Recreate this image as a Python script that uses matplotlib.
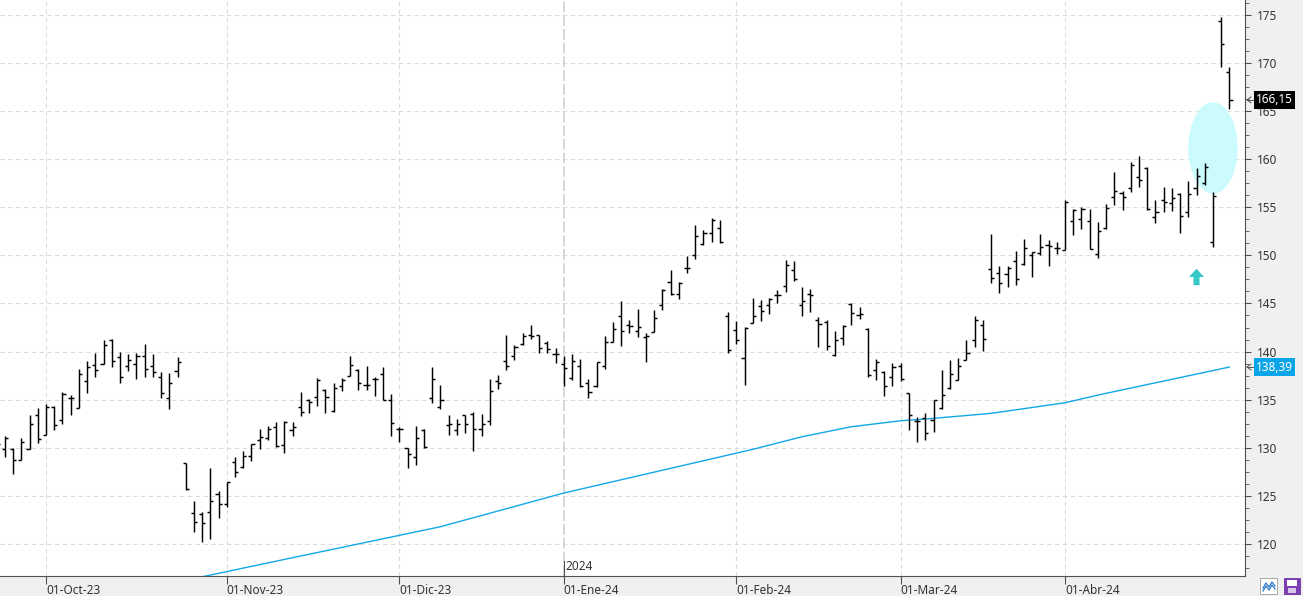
import numpy as np
import matplotlib.pyplot as plt
from matplotlib.patches import Ellipse, Polygon, Rectangle
from matplotlib.lines import Line2D
from matplotlib.ticker import MultipleLocator

plt.rcParams['font.family'] = ['Noto Sans', 'DejaVu Sans']

# daily OHLC, one bar per session
opens = [130.9, 129.9, 129.9, 128.73, 129.87, 133.37, 131.29, 134.2, 132.88, 135.13,
         134.1, 136.93, 138.63, 138.7, 141.2, 139.46, 138.5, 138.7, 139.53, 138.5,
         137.35, 135.13, 137.97, 128.4, 123.2, 123.1, 123.3, 125.21, 124.17, 128.57,
         128.05, 129.16, 130.82, 131.0, 132.14, 130.3, 131.86, 134.22, 134.98, 135.25,
         136.0, 133.83, 136.43, 137.5, 138.1, 136.54, 137.1, 137.64, 135.0, 132.0,
         129.97, 129.03, 131.85, 135.13, 134.25, 132.4, 131.83, 133.38, 133.5, 132.0,
         132.76, 136.92, 139.0, 139.5, 140.76, 141.7, 141.7, 140.9, 139.72, 138.7,
         137.26, 138.5, 136.78, 136.43, 138.51, 141.04, 143.67, 142.74, 142.11, 141.56,
         142.08, 144.82, 147.21, 145.96, 148.66, 150.05, 151.19, 152.3, 152.82, 143.66,
         142.2, 139.28, 142.92, 144.7, 144.8, 145.9, 146.78, 148.44, 144.8, 146.02,
         143.31, 143.07, 139.6, 141.44, 144.98, 143.83, 142.38, 138.05, 137.9, 137.36,
         138.45, 135.73, 132.8, 133.13, 132.85, 134.14, 136.21, 137.08, 139.09, 141.24,
         142.73, 148.61, 148.2, 148.1, 149.41, 149.13, 150.07, 150.28, 151.04, 150.8,
         150.55, 153.56, 153.77, 153.56, 150.1, 152.8, 156.02, 156.5, 156.95, 158.1,
         159.03, 154.0, 155.74, 155.4, 156.33, 154.46, 156.95, 157.47, 151.34, 174.38,
         169.08]
highs = [131.1, 131.2, 129.94, 130.98, 133.4, 134.1, 134.55, 134.34, 135.79, 135.48,
         138.18, 139.0, 139.88, 141.2, 141.26, 139.98, 139.7, 139.9, 140.75, 139.7,
         137.9, 137.73, 139.4, 128.4, 124.48, 123.37, 127.95, 125.52, 126.49, 129.09,
         129.68, 130.41, 131.93, 132.28, 132.73, 132.83, 132.66, 135.77, 135.05, 137.3,
         136.09, 136.71, 137.23, 139.55, 138.2, 138.51, 137.33, 138.4, 135.6, 132.14,
         130.03, 132.26, 131.92, 138.37, 136.5, 133.38, 133.04, 133.45, 133.73, 133.56,
         137.19, 137.54, 141.77, 140.73, 141.94, 142.74, 141.77, 141.1, 140.42, 139.5,
         139.72, 139.2, 137.19, 138.96, 141.63, 143.05, 145.27, 143.3, 144.44, 141.91,
         144.33, 146.48, 148.49, 147.21, 149.94, 153.16, 152.64, 153.86, 153.68, 144.08,
         143.16, 142.57, 145.52, 145.4, 145.6, 146.36, 149.48, 149.38, 146.71, 146.54,
         143.59, 143.25, 142.1, 142.73, 145.05, 144.63, 142.48, 139.26, 137.98, 138.83,
         138.85, 135.73, 133.23, 133.65, 134.93, 138.12, 139.16, 139.37, 141.17, 143.66,
         143.25, 152.18, 148.86, 148.86, 150.42, 151.66, 150.35, 152.25, 151.63, 151.39,
         155.74, 154.77, 155.05, 154.81, 153.49, 155.33, 158.69, 156.71, 159.72, 160.31,
         159.2, 155.74, 157.06, 156.95, 156.43, 157.72, 159.03, 159.55, 156.54, 174.72,
         169.53]
lows = [129.6, 129.0, 127.24, 128.73, 129.87, 130.46, 131.29, 131.9, 132.47, 133.44,
        134.1, 135.65, 137.38, 138.67, 138.35, 136.69, 138.0, 137.2, 137.38, 137.38,
        135.13, 133.99, 137.38, 125.63, 121.3, 120.26, 120.53, 122.75, 123.89, 127.01,
        127.95, 128.67, 129.89, 130.82, 130.13, 129.5, 131.27, 133.35, 133.6, 134.39,
        133.66, 133.76, 135.95, 137.5, 136.0, 136.0, 135.43, 134.92, 131.22, 130.65,
        127.93, 128.21, 129.94, 134.69, 134.08, 131.3, 131.3, 131.55, 129.68, 131.2,
        132.41, 136.16, 138.13, 139.17, 140.73, 141.28, 139.9, 139.8, 138.82, 136.4,
        137.0, 136.33, 135.19, 136.33, 138.17, 141.0, 140.63, 141.91, 141.5, 138.96,
        142.0, 144.33, 145.89, 145.47, 148.14, 149.6, 151.09, 151.43, 151.26, 139.9,
        140.8, 136.49, 142.92, 143.18, 143.94, 145.05, 146.19, 147.33, 143.66, 144.11,
        140.47, 140.2, 139.57, 140.65, 142.73, 143.35, 137.36, 137.01, 135.4, 136.4,
        136.98, 131.85, 130.6, 130.85, 131.64, 134.07, 136.14, 137.08, 139.09, 140.47,
        140.06, 147.16, 146.09, 146.71, 146.95, 148.96, 147.75, 150.07, 148.89, 150.17,
        150.55, 152.1, 152.73, 150.65, 149.68, 152.69, 155.22, 154.7, 156.54, 157.13,
        154.7, 153.39, 154.53, 154.63, 152.35, 154.01, 156.26, 157.3, 150.89, 169.6,
        165.2]
closes = [130.4, 131.0, 128.73, 130.56, 132.43, 130.91, 134.2, 132.36, 135.55, 135.13,
          137.63, 138.42, 138.04, 140.68, 139.0, 137.32, 139.1, 139.5, 138.18, 137.83,
          135.69, 136.76, 138.87, 125.7, 122.27, 122.16, 124.45, 124.17, 126.45, 127.46,
          129.19, 130.37, 131.1, 131.93, 130.2, 132.66, 132.14, 133.7, 134.77, 137.02,
          135.32, 136.26, 137.06, 138.61, 136.7, 136.5, 137.2, 134.96, 132.54, 132.0,
          129.33, 131.0, 130.12, 137.12, 135.0, 132.5, 132.52, 132.52, 132.0, 132.52,
          135.88, 136.74, 138.48, 140.48, 141.6, 141.6, 140.42, 140.31, 139.72, 138.25,
          139.02, 136.43, 135.8, 138.92, 140.97, 142.36, 142.11, 142.63, 142.53, 141.66,
          143.47, 146.41, 146.0, 147.17, 148.73, 152.02, 152.3, 153.68, 151.43, 140.12,
          141.19, 142.45, 143.7, 144.18, 145.5, 145.9, 149.03, 147.5, 145.22, 145.91,
          142.83, 140.54, 141.17, 142.62, 144.04, 143.94, 137.53, 138.92, 136.4, 138.36,
          137.15, 133.37, 132.8, 131.54, 134.93, 135.45, 137.7, 138.5, 139.89, 143.25,
          141.27, 147.68, 147.13, 148.72, 147.58, 150.76, 150.35, 150.87, 150.94, 150.8,
          155.5, 154.7, 154.77, 150.65, 152.55, 154.88, 156.68, 156.09, 159.38, 157.82,
          154.81, 154.46, 155.57, 155.98, 154.11, 156.33, 158.24, 159.2, 156.16, 171.95,
          166.15]

# first session of each month (bar number) and its label
month_labels = ['01-Oct-23', '01-Nov-23', '01-Dic-23', '01-Ene-24',
                '01-Feb-24', '01-Mar-24', '01-Abr-24']
month_bars = [6, 28, 49, 69, 90, 110, 130]
year_label = '2024'
year_bar = 69

# moving average, read at some bars
ma_bars = [25, 35, 54, 69, 92, 98, 104, 110, 113, 121, 130, 134, 150]
ma_values = [116.6, 118.4, 121.8, 125.3, 129.84, 131.15, 132.19,
             132.81, 132.99, 133.58, 134.68, 135.48, 138.39]

last_price = closes[-1]
last_ma = ma_values[-1]

# marks drawn on the chart
highlight_bar = 148      # centre of the cyan ellipse
highlight_price = 161.15
signal_bar = 146         # up arrow
signal_price = 148.6

FS = 8.5
W, H = 1303, 596
fig = plt.figure(figsize=(W / 100, H / 100), dpi=100, facecolor='#f0f0f0')
ax = fig.add_axes([0, 20 / H, 1245 / W, 576 / H])
ax.set_facecolor('white')

x = np.arange(len(opens))
ax.vlines(x, lows, highs, color='black', lw=1.05, zorder=3)
ax.hlines(opens, x - 0.38, x, color='black', lw=1.05, zorder=3)
ax.hlines(closes, x, x + 0.38, color='black', lw=1.05, zorder=3)

ax.plot(ma_bars, ma_values, color='#12a8e6', lw=1.0, zorder=2)

# grid
for lev in range(120, 180, 5):
    ax.axhline(lev, color='#dadada', lw=0.75, ls=(0, (4, 3.5)), zorder=0)
for b in month_bars:
    if b != year_bar:
        ax.axvline(b, color='#dadada', lw=0.75, ls=(0, (4, 3.5)), zorder=0)
ax.axvline(year_bar, color='#cdcdcd', lw=1.1, ls=(0, (7, 2)), zorder=0)

# highlight ellipse and arrow
ax.add_patch(Ellipse((highlight_bar, highlight_price), 6.0, 9.5,
                     facecolor='#ccfbfd', edgecolor='none', zorder=1))
hw, sw = 0.92, 0.37
tip = signal_price
ax.add_patch(Polygon([(signal_bar, tip), (signal_bar + hw, tip - 0.85),
                      (signal_bar + sw, tip - 0.85), (signal_bar + sw, tip - 1.7),
                      (signal_bar - sw, tip - 1.7), (signal_bar - sw, tip - 0.85),
                      (signal_bar - hw, tip - 0.85)],
                     closed=True, facecolor='#33c9c9', edgecolor='none', zorder=4))

# axes styling
for s in ['top', 'left']:
    ax.spines[s].set_visible(False)
ax.spines['bottom'].set_color('#505050')
ax.spines['right'].set_color('#505050')
ax.yaxis.tick_right()
ax.set_yticks(range(120, 180, 5))
ax.set_yticklabels([str(v) for v in range(120, 180, 5)])
ax.yaxis.set_minor_locator(MultipleLocator(1.25))
ax.tick_params(axis='y', which='major', length=4.3, pad=4.0, color='#505050',
               labelsize=FS, labelcolor='#333333')
ax.tick_params(axis='y', which='minor', length=2.7, color='#505050')

ax.set_xticks(month_bars)
ax.set_xticklabels(month_labels, ha='left')
ax.tick_params(axis='x', length=5.8, pad=0.0, color='#505050',
               labelsize=FS, labelcolor='#333333')

ax.set_xlim(0.40, 151.9)
ax.set_ylim(116.68, 176.53)

# year marker
ax.text(year_bar + 0.25, 117.0, year_label, fontsize=FS, color='#333333',
        ha='left', va='bottom', zorder=5)
ax.plot([year_bar, year_bar], [116.68, 118.2], color='#505050', lw=0.8,
        clip_on=False, zorder=5)

# value labels on the price axis
ytr = ax.get_yaxis_transform()
for val, col in [(last_price, 'black'), (last_ma, '#0aa5e8')]:
    ax.add_patch(Rectangle((1.0075, val - 0.97), 0.0325, 1.94, transform=ytr,
                           facecolor=col, edgecolor='none', clip_on=False, zorder=6))
    ax.text(1.0238, val, f'{val:.2f}'.replace('.', ','), transform=ytr, color='white',
            fontsize=FS, ha='center', va='center', clip_on=False, zorder=7)
    ax.add_line(Line2D([1.0048, 1.0015, 1.0048], [val + 0.3, val, val - 0.3],
                       transform=ytr, color='#505050', lw=0.7, clip_on=False))
    ax.add_line(Line2D([1.0015, 1.0065], [val, val], transform=ytr,
                       color='#505050', lw=0.7, clip_on=False))


# small toolbar icons bottom right
def px(xp, yp):
    return xp / W, 1 - yp / H


fig.add_artist(Rectangle(px(1260, 594), 17 / W, 16 / H, facecolor='white',
                         edgecolor='#a8a8a8', lw=0.7))
fig.add_artist(Line2D([1263 / W, 1266 / W, 1269 / W, 1272 / W, 1275 / W],
                      [1 - 588 / H, 1 - 583 / H, 1 - 587 / H, 1 - 582 / H, 1 - 586 / H],
                      color='#2a78c8', lw=0.9))
fig.add_artist(Line2D([1263 / W, 1266 / W, 1269 / W, 1272 / W, 1275 / W],
                      [1 - 591 / H, 1 - 586 / H, 1 - 590 / H, 1 - 585 / H, 1 - 589 / H],
                      color='#2a78c8', lw=0.9))
fig.add_artist(Rectangle(px(1284, 594), 16 / W, 16 / H, facecolor='#7b3fb0',
                         edgecolor='#7b3fb0', lw=0.7))
fig.add_artist(Rectangle(px(1287, 586), 10 / W, 6 / H, facecolor='white',
                         edgecolor='none'))
fig.add_artist(Rectangle(px(1288, 593), 8 / W, 5 / H, facecolor='#d8c8ec',
                         edgecolor='none'))

fig.savefig('out.png', dpi=100, facecolor=fig.get_facecolor())
